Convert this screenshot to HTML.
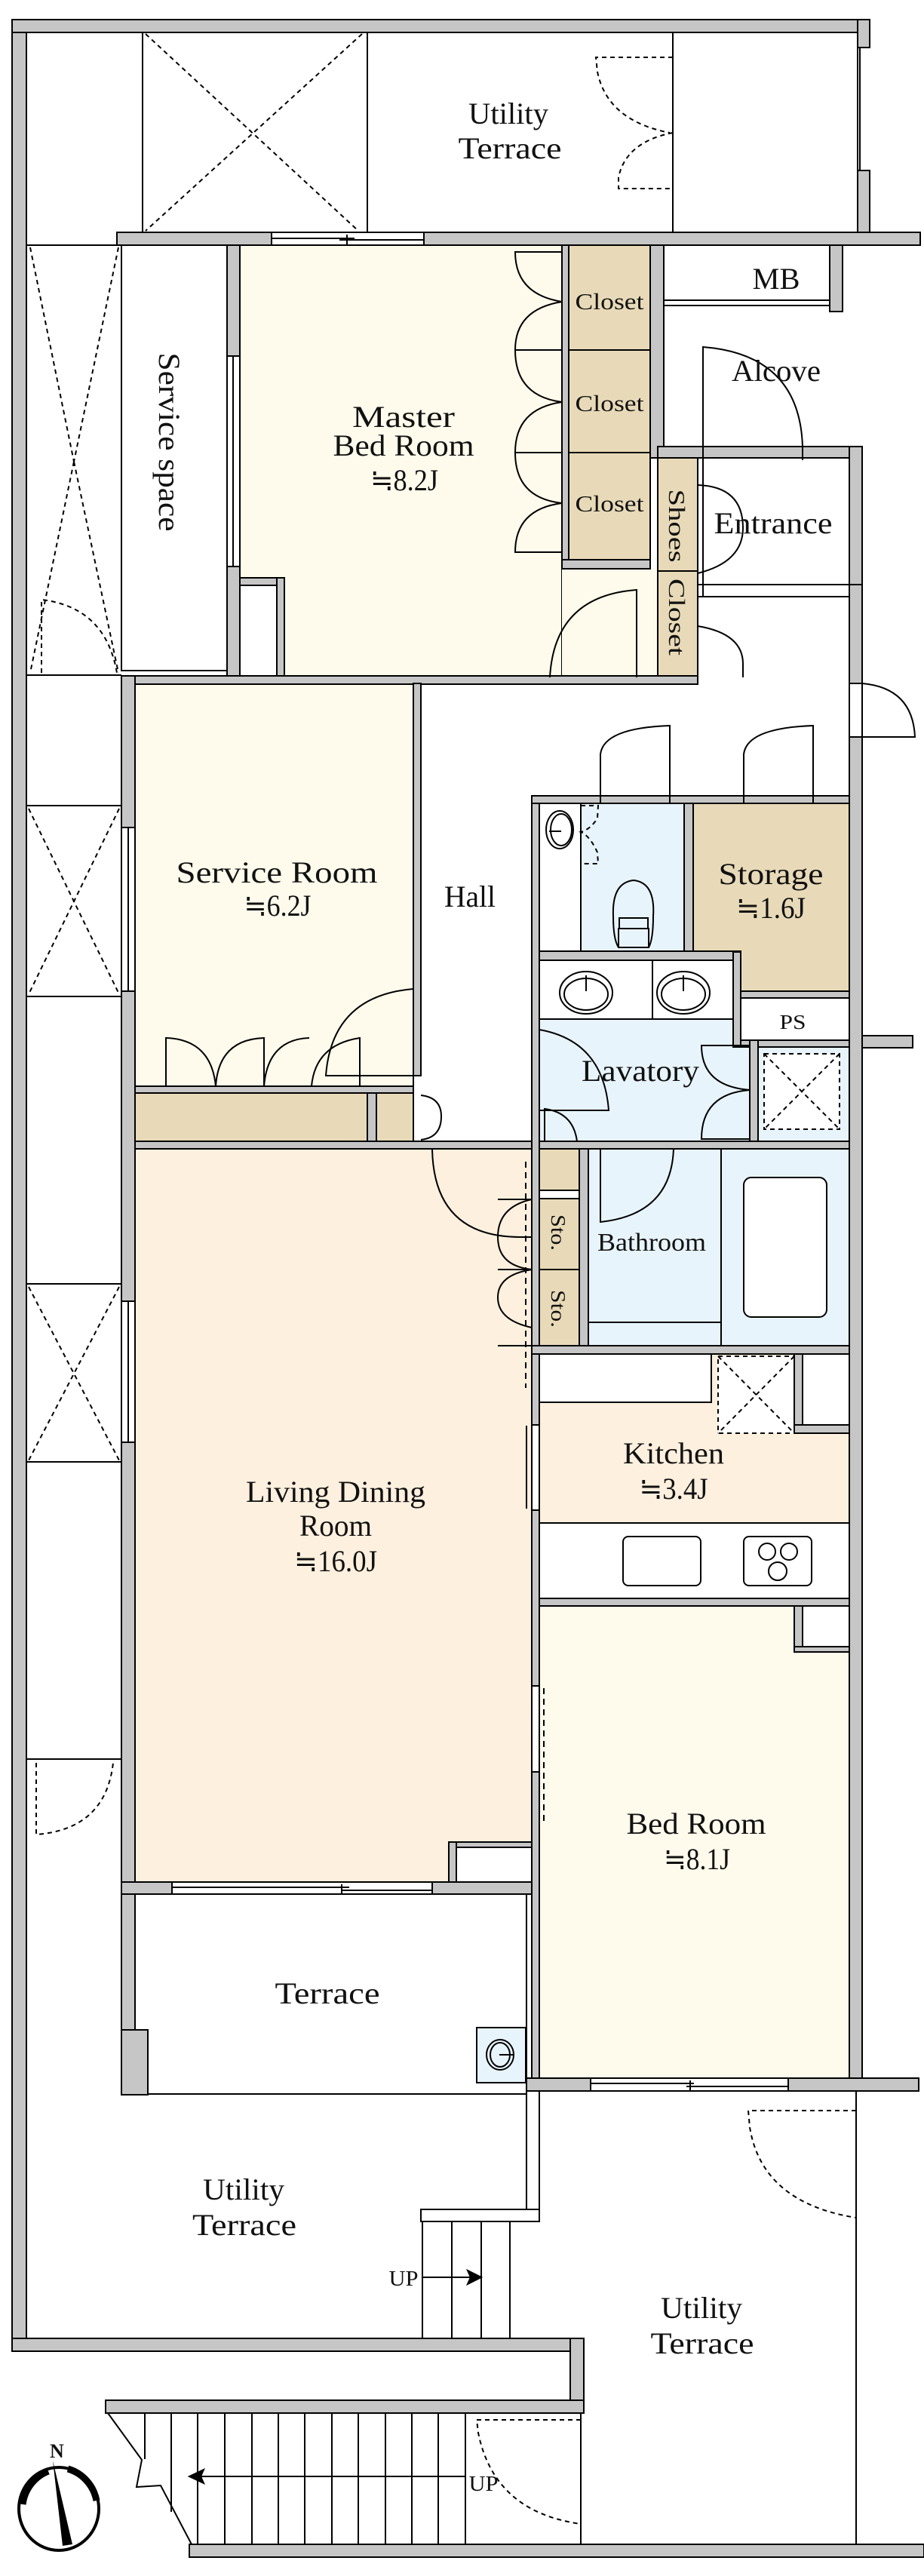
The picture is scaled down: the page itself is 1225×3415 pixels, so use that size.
<!DOCTYPE html>
<html><head><meta charset="utf-8"><style>
html,body{margin:0;padding:0;background:#fff}
svg{display:block}
text{font-family:"Liberation Serif",serif;fill:#111}
</style></head><body>
<svg width="1225" height="3415" viewBox="0 0 1225 3415" xmlns="http://www.w3.org/2000/svg">
<rect width="1225" height="3415" fill="#fff"/>
<g stroke="#000" stroke-width="2">
<rect x="318" y="325" width="427" height="573" fill="#fffbec"/>
<rect x="745" y="754" width="127" height="144" fill="#fffbec" stroke="none"/>
<rect x="318" y="776" width="49" height="122" fill="#fff"/>
<rect x="754" y="325" width="108" height="139" fill="#e8dab8"/>
<rect x="754" y="464" width="108" height="136" fill="#e8dab8"/>
<rect x="754" y="600" width="108" height="142" fill="#e8dab8"/>
<rect x="872" y="607" width="53" height="150" fill="#e8dab8"/>
<rect x="872" y="757" width="53" height="141" fill="#e8dab8"/>
<rect x="880" y="325" width="220" height="80" fill="#fff"/>
<line x1="880" y1="398" x2="1100" y2="398"/>
<rect x="925" y="607" width="201" height="168" fill="#fff"/>
<rect x="925" y="775" width="201" height="16" fill="#fff"/>
<rect x="161" y="325" width="140" height="564" fill="#fff"/>
<rect x="179" y="906" width="369" height="534" fill="#fffbec"/>
<rect x="179" y="1449" width="308" height="64" fill="#e8dab8"/>
<rect x="499" y="1449" width="49" height="64" fill="#e8dab8"/>
<rect x="715" y="1065" width="192" height="196" fill="#e8f4fc"/>
<rect x="715" y="1065" width="55" height="196" fill="#fff"/>
<polygon points="919,1065 1126,1065 1126,1314 982,1314 982,1262 919,1262" fill="#e8dab8"/>
<polygon points="715,1273 972,1273 972,1388 994,1388 994,1513 715,1513" fill="#e8f4fc"/>
<rect x="715" y="1273" width="150" height="78" fill="#fff"/>
<rect x="865" y="1273" width="107" height="78" fill="#fff"/>
<rect x="982" y="1323" width="144" height="56" fill="#fff"/>
<rect x="1005" y="1388" width="121" height="125" fill="#e8f4fc"/>
<rect x="1013" y="1397" width="100" height="100" fill="#fff" stroke-dasharray="6,5"/>
<line x1="1013" y1="1397" x2="1113" y2="1497" stroke-dasharray="6,5"/>
<line x1="1113" y1="1397" x2="1013" y2="1497" stroke-dasharray="6,5"/>
<rect x="780" y="1523" width="346" height="261" fill="#e8f4fc"/>
<line x1="956" y1="1523" x2="956" y2="1784"/>
<line x1="780" y1="1753" x2="956" y2="1753"/>
<rect x="986" y="1561" width="110" height="185" rx="10" fill="#fff"/>
<rect x="715" y="1523" width="53" height="55" fill="#e8dab8"/>
<rect x="715" y="1589" width="53" height="94" fill="#e8dab8"/>
<rect x="715" y="1683" width="53" height="101" fill="#e8dab8"/>
<polygon points="179,1523 705,1523 705,2449 605,2449 605,2495 179,2495" fill="#fdf0de"/>
<rect x="715" y="1795" width="411" height="224" fill="#fdf0de"/>
<rect x="715" y="1795" width="228" height="64" fill="#fff"/>
<rect x="952" y="1798" width="101" height="102" fill="#fff" stroke-dasharray="6,5"/>
<line x1="952" y1="1798" x2="1053" y2="1900" stroke-dasharray="6,5"/>
<line x1="1053" y1="1798" x2="952" y2="1900" stroke-dasharray="6,5"/>
<rect x="1064" y="1795" width="62" height="94" fill="#fff"/>
<rect x="715" y="2019" width="411" height="100" fill="#fff"/>
<rect x="826" y="2037" width="103" height="65" rx="7" fill="#fff"/>
<rect x="986" y="2037" width="90" height="65" rx="7" fill="#fff"/>
<circle cx="1017" cy="2057" r="11" fill="none"/><circle cx="1046" cy="2057" r="11" fill="none"/><circle cx="1031" cy="2083" r="12" fill="none"/>
<rect x="715" y="2129" width="411" height="626" fill="#fffbec"/>
<rect x="1064" y="2129" width="62" height="54" fill="#fff"/>
<rect x="605" y="2449" width="100" height="46" fill="#fff"/>
<rect x="179" y="2511" width="519" height="265" fill="#fff"/>
<rect x="632" y="2688" width="65" height="73" fill="#e8f4fc"/>
<ellipse cx="663" cy="2724" rx="18" ry="20" fill="none"/><ellipse cx="663" cy="2724" rx="13" ry="16" fill="none"/>
<line x1="662" y1="2724" x2="680" y2="2724"/>
</g>
<g fill="#c6c6c6" stroke="#000" stroke-width="2">
<rect x="16" y="26" width="19" height="3091"/>
<rect x="16" y="26" width="1137" height="17"/>
<rect x="1137" y="26" width="16" height="37"/>
<rect x="1137" y="226" width="16" height="99"/>
<rect x="155" y="308" width="1065" height="17"/>
<rect x="301" y="325" width="17" height="573"/>
<rect x="745" y="325" width="9" height="429"/>
<rect x="745" y="742" width="117" height="12"/>
<rect x="862" y="325" width="18" height="282"/>
<rect x="1100" y="325" width="17" height="88"/>
<rect x="872" y="592" width="271" height="15"/>
<rect x="1126" y="592" width="17" height="314"/>
<rect x="1126" y="977" width="17" height="1795"/>
<rect x="1143" y="1373" width="67" height="16"/>
<rect x="318" y="766" width="59" height="10"/>
<rect x="367" y="766" width="10" height="132"/>
<rect x="161" y="896" width="764" height="11"/>
<rect x="161" y="896" width="18" height="1795"/>
<rect x="161" y="2691" width="35" height="86"/>
<rect x="548" y="906" width="10" height="520"/>
<rect x="179" y="1440" width="369" height="9"/>
<rect x="487" y="1449" width="12" height="64"/>
<rect x="179" y="1513" width="947" height="10"/>
<rect x="705" y="1055" width="10" height="1717"/>
<rect x="705" y="1055" width="421" height="10"/>
<rect x="907" y="1065" width="12" height="197"/>
<rect x="715" y="1261" width="267" height="12"/>
<rect x="972" y="1262" width="10" height="126"/>
<rect x="982" y="1314" width="144" height="9"/>
<rect x="982" y="1379" width="144" height="9"/>
<rect x="994" y="1379" width="11" height="134"/>
<rect x="768" y="1523" width="12" height="261"/>
<rect x="705" y="1784" width="421" height="11"/>
<rect x="1053" y="1795" width="11" height="105"/>
<rect x="1053" y="1889" width="73" height="11"/>
<rect x="715" y="2119" width="411" height="10"/>
<rect x="1053" y="2129" width="11" height="61"/>
<rect x="1053" y="2183" width="73" height="7"/>
<rect x="595" y="2442" width="110" height="7"/>
<rect x="595" y="2442" width="10" height="53"/>
<rect x="161" y="2495" width="544" height="16"/>
<rect x="698" y="2755" width="520" height="17"/>
<rect x="16" y="3100" width="758" height="17"/>
<rect x="756" y="3100" width="18" height="99"/>
<rect x="140" y="3182" width="634" height="17"/>
<rect x="251" y="3373" width="974" height="17"/>
</g>
<g fill="#fff" stroke="#000" stroke-width="2">
<rect x="360" y="308" width="202" height="17"/>
<line x1="360" y1="316" x2="470" y2="316"/><line x1="450" y1="318" x2="562" y2="318"/><line x1="460" y1="311" x2="460" y2="324"/>
<rect x="301" y="472" width="17" height="279"/><line x1="309" y1="472" x2="309" y2="751"/>
<rect x="161" y="1097" width="18" height="217"/><line x1="170" y1="1097" x2="170" y2="1314"/>
<rect x="161" y="1725" width="18" height="187"/><line x1="170" y1="1725" x2="170" y2="1912"/>
<rect x="228" y="2495" width="345" height="16"/>
<line x1="228" y1="2502" x2="463" y2="2502"/><line x1="453" y1="2506" x2="573" y2="2506"/><line x1="453" y1="2498" x2="453" y2="2511"/>
<rect x="705" y="1889" width="10" height="113"/>
<rect x="705" y="2235" width="10" height="114"/>
<rect x="783" y="2755" width="262" height="17"/>
<line x1="783" y1="2762" x2="920" y2="2762"/><line x1="910" y1="2766" x2="1045" y2="2766"/><line x1="915" y1="2758" x2="915" y2="2771"/>
<rect x="1126" y="906" width="17" height="71"/>
<rect x="1137" y="63" width="3" height="163"/>
</g>
<g fill="none" stroke="#000" stroke-width="2">
<line x1="189" y1="43" x2="189" y2="308"/><line x1="487" y1="43" x2="487" y2="308"/><line x1="892" y1="43" x2="892" y2="308"/>
<g stroke-dasharray="6,5">
<line x1="193" y1="45" x2="475" y2="306"/><line x1="480" y1="45" x2="193" y2="306"/>
<path d="M892,76 L790,76 L792,95 Q805,160 888,176"/>
<path d="M892,176 Q830,188 820,235 L820,250 L892,250"/>
<line x1="40" y1="328" x2="98" y2="612"/><line x1="157" y1="328" x2="98" y2="612"/><line x1="98" y1="612" x2="40" y2="892"/><line x1="98" y1="612" x2="157" y2="892"/>
<path d="M55,892 L55,795 Q140,805 155,892"/>
<line x1="38" y1="1072" x2="158" y2="1318"/><line x1="158" y1="1072" x2="38" y2="1318"/>
<line x1="38" y1="1706" x2="158" y2="1936"/><line x1="158" y1="1706" x2="38" y2="1936"/>
<path d="M48,2337 L48,2432 Q140,2425 150,2337"/>
<path d="M1135,2798 L992,2798 L994,2820 Q1010,2920 1135,2940"/>
<path d="M770,3208 L632,3208 L634,3225 Q655,3330 770,3346"/>
<path d="M770,1068 L793,1068 L792,1085 Q782,1100 770,1103 Q782,1108 792,1130 L793,1145 L770,1145"/>
</g>
<line x1="35" y1="325" x2="161" y2="325"/><line x1="35" y1="895" x2="161" y2="895"/>
<line x1="35" y1="1068" x2="161" y2="1068"/><line x1="35" y1="1321" x2="161" y2="1321"/>
<line x1="35" y1="1702" x2="161" y2="1702"/><line x1="35" y1="1938" x2="161" y2="1938"/>
<line x1="35" y1="2332" x2="161" y2="2332"/>
<path d="M745,334 L683,334 Q683,390 745,400 Q683,410 683,464 L745,464"/>
<path d="M683,464 Q683,525 745,533 Q683,542 683,600 L745,600"/>
<path d="M683,600 Q683,660 745,667 Q683,675 683,732 L745,732"/>
<path d="M844,898 L844,782 Q735,790 729,898"/>
<path d="M932,792 L932,460 Q1060,470 1064,592 L1064,610"/>
<path d="M925,643 Q985,645 985,700 Q985,745 925,760"/>
<path d="M925,830 Q985,840 985,880 L985,898"/>
<line x1="1126" y1="775" x2="1143" y2="775"/>
<path d="M1143,906 Q1210,912 1213,977 L1143,977"/>
<path d="M796,1065 L796,1000 Q800,965 888,962 L888,1065"/>
<path d="M986,1065 L986,1000 Q990,965 1078,962 L1078,1065"/>
<path d="M220,1440 L220,1376 Q280,1378 286,1440 M286,1440 Q290,1378 350,1376 L350,1440 Q355,1378 410,1376 M413,1440 Q418,1385 477,1376 L477,1440"/>
<path d="M548,1311 Q440,1320 432,1426 L548,1426"/>
<path d="M558,1452 Q585,1455 585,1480 Q585,1508 558,1511"/>
<path d="M715,1365 Q800,1380 807,1472 L715,1472"/>
<path d="M722,1513 L722,1470 Q760,1475 765,1513"/>
<path d="M994,1386 L930,1386 Q930,1440 994,1445 Q930,1450 930,1510 L994,1510"/>
<path d="M796,1523 L796,1620 Q890,1610 893,1523"/>
<path d="M573,1523 Q575,1640 690,1640 L705,1640"/>
<path d="M705,1590 Q660,1600 660,1640 Q660,1678 705,1683 Q660,1690 660,1720 Q660,1750 705,1760 M660,1590 L705,1590 M660,1683 L705,1683 M660,1784 L705,1784 L705,1760"/>
<line x1="697" y1="1540" x2="697" y2="1840" stroke-dasharray="8,6"/>
<line x1="698" y1="1890" x2="698" y2="2000"/>
<line x1="721" y1="2238" x2="721" y2="2420" stroke-dasharray="8,6"/>
<ellipse cx="742" cy="1100" rx="18" ry="25"/><ellipse cx="744" cy="1100" rx="14" ry="21"/><line x1="728" y1="1102" x2="744" y2="1102"/>
<path d="M813,1215 Q811,1170 840,1167 Q869,1170 866,1215 Q866,1245 860,1256 L820,1256 Q813,1245 813,1215Z"/>
<rect x="821" y="1217" width="38" height="14"/><rect x="820" y="1231" width="40" height="25"/>
<ellipse cx="777" cy="1316" rx="35" ry="28"/><ellipse cx="777" cy="1318" rx="29" ry="21"/><line x1="777" y1="1293" x2="777" y2="1314"/>
<ellipse cx="906" cy="1316" rx="35" ry="28"/><ellipse cx="906" cy="1318" rx="29" ry="21"/><line x1="906" y1="1293" x2="906" y2="1314"/>
<line x1="698" y1="2511" x2="698" y2="2945"/>
<line x1="715" y1="2772" x2="715" y2="2945"/>
<line x1="196" y1="2776" x2="698" y2="2776"/>
<rect x="558" y="2929" width="157" height="16" fill="#fff"/>
<rect x="560" y="2945" width="116" height="155"/>
<line x1="599" y1="2945" x2="599" y2="3100"/><line x1="638" y1="2945" x2="638" y2="3100"/>
<line x1="560" y1="3019" x2="632" y2="3019"/>
<polygon points="620,3010 638,3019 620,3028 624,3019" fill="#000"/>
<line x1="1135" y1="2772" x2="1135" y2="3373"/>
<line x1="770" y1="3199" x2="770" y2="3373"/>
<path d="M143,3199 L188,3261 L181,3297 L213,3295 L254,3373"/>
<line x1="192" y1="3199" x2="192" y2="3260"/><line x1="227" y1="3199" x2="227" y2="3330"/>
<line x1="262" y1="3199" x2="262" y2="3373"/><line x1="298" y1="3199" x2="298" y2="3373"/><line x1="334" y1="3199" x2="334" y2="3373"/>
<line x1="369" y1="3199" x2="369" y2="3373"/><line x1="404" y1="3199" x2="404" y2="3373"/><line x1="440" y1="3199" x2="440" y2="3373"/>
<line x1="475" y1="3199" x2="475" y2="3373"/><line x1="511" y1="3199" x2="511" y2="3373"/><line x1="546" y1="3199" x2="546" y2="3373"/>
<line x1="581" y1="3199" x2="581" y2="3373"/><line x1="617" y1="3199" x2="617" y2="3373"/>
<line x1="262" y1="3283" x2="617" y2="3283"/>
<polygon points="251,3283 270,3274 266,3283 270,3292" fill="#000"/>
</g>
<ellipse cx="78" cy="3326" rx="53" ry="55" fill="none" stroke="#000" stroke-width="4"/>
<path d="M64,3276 A53,55 0 0 0 30,3320" fill="none" stroke="#000" stroke-width="9"/>
<path d="M90,3273 A53,55 0 0 1 128,3315" fill="none" stroke="#000" stroke-width="9"/>
<polygon points="70,3262 96,3373 83,3375" fill="#000"/>
<text x="66" y="3258" font-size="26" font-weight="bold">N</text>
<g font-size="40" text-anchor="middle">
<text x="674" y="164" textLength="106" lengthAdjust="spacingAndGlyphs">Utility</text>
<text x="676" y="210" textLength="137" lengthAdjust="spacingAndGlyphs">Terrace</text>
<text x="535" y="566" textLength="136" lengthAdjust="spacingAndGlyphs">Master</text>
<text x="535" y="604" textLength="187" lengthAdjust="spacingAndGlyphs">Bed Room</text>
<text x="536" y="650" textLength="90" lengthAdjust="spacingAndGlyphs">≒8.2J</text>
<text x="1029" y="383" textLength="63" lengthAdjust="spacingAndGlyphs">MB</text>
<text x="1029" y="505" textLength="118" lengthAdjust="spacingAndGlyphs">Alcove</text>
<text x="1025" y="707" textLength="157" lengthAdjust="spacingAndGlyphs">Entrance</text>
<text transform="translate(211,586) rotate(90)" textLength="237" lengthAdjust="spacingAndGlyphs">Service space</text>
<text x="367" y="1170" textLength="267" lengthAdjust="spacingAndGlyphs">Service Room</text>
<text x="368" y="1214" textLength="89" lengthAdjust="spacingAndGlyphs">≒6.2J</text>
<text x="623" y="1202" textLength="68" lengthAdjust="spacingAndGlyphs">Hall</text>
<text x="1022" y="1172" textLength="139" lengthAdjust="spacingAndGlyphs">Storage</text>
<text x="1022" y="1217" textLength="92" lengthAdjust="spacingAndGlyphs">≒1.6J</text>
<text x="849" y="1433" textLength="156" lengthAdjust="spacingAndGlyphs">Lavatory</text>
<text x="864" y="1658" font-size="34" textLength="144" lengthAdjust="spacingAndGlyphs">Bathroom</text>
<text x="893" y="1940" textLength="134" lengthAdjust="spacingAndGlyphs">Kitchen</text>
<text x="893" y="1987" textLength="91" lengthAdjust="spacingAndGlyphs">≒3.4J</text>
<text x="445" y="1991" textLength="238" lengthAdjust="spacingAndGlyphs">Living Dining</text>
<text x="445" y="2036" textLength="96" lengthAdjust="spacingAndGlyphs">Room</text>
<text x="445" y="2083" textLength="110" lengthAdjust="spacingAndGlyphs">≒16.0J</text>
<text x="923" y="2431" textLength="185" lengthAdjust="spacingAndGlyphs">Bed Room</text>
<text x="924" y="2478" textLength="88" lengthAdjust="spacingAndGlyphs">≒8.1J</text>
<text x="434" y="2656" textLength="139" lengthAdjust="spacingAndGlyphs">Terrace</text>
<text x="323" y="2916" textLength="108" lengthAdjust="spacingAndGlyphs">Utility</text>
<text x="324" y="2963" textLength="138" lengthAdjust="spacingAndGlyphs">Terrace</text>
<text x="930" y="3073" textLength="108" lengthAdjust="spacingAndGlyphs">Utility</text>
<text x="931" y="3120" textLength="137" lengthAdjust="spacingAndGlyphs">Terrace</text>
</g>
<g font-size="31" text-anchor="middle">
<text x="808" y="410" textLength="91" lengthAdjust="spacingAndGlyphs">Closet</text>
<text x="808" y="545" textLength="91" lengthAdjust="spacingAndGlyphs">Closet</text>
<text x="808" y="678" textLength="91" lengthAdjust="spacingAndGlyphs">Closet</text>
<text transform="translate(887,697) rotate(90)" textLength="97" lengthAdjust="spacingAndGlyphs">Shoes</text>
<text transform="translate(887,818) rotate(90)" textLength="102" lengthAdjust="spacingAndGlyphs">Closet</text>
<text transform="translate(731,1634) rotate(90)" font-size="27" textLength="48" lengthAdjust="spacingAndGlyphs">Sto.</text>
<text transform="translate(731,1735) rotate(90)" font-size="27" textLength="50" lengthAdjust="spacingAndGlyphs">Sto.</text>
<text x="1051" y="1364" font-size="27" textLength="35" lengthAdjust="spacingAndGlyphs">PS</text>
<text x="535" y="3030" font-size="28" textLength="39" lengthAdjust="spacingAndGlyphs">UP</text>
<text x="641" y="3302" font-size="28" textLength="39" lengthAdjust="spacingAndGlyphs">UP</text>
</g>
</svg>
</body></html>
